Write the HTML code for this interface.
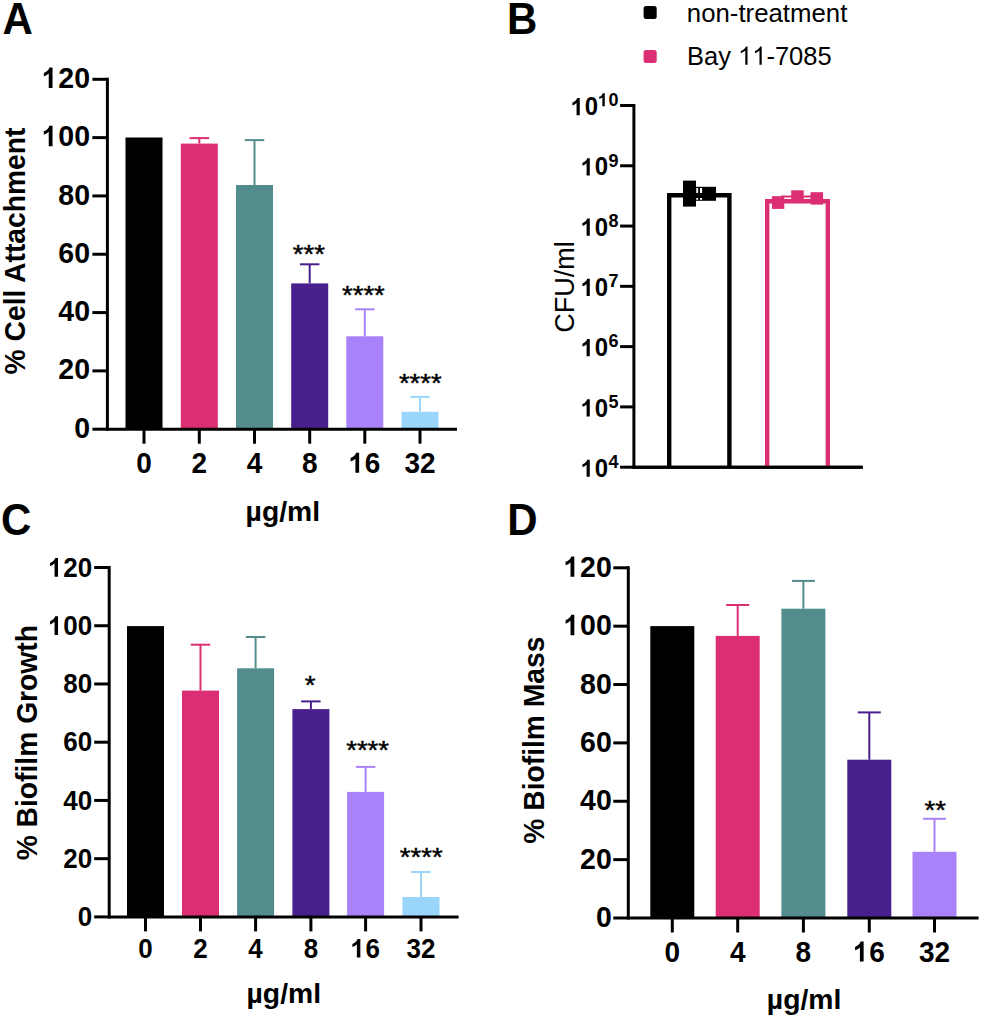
<!DOCTYPE html>
<html><head><meta charset="utf-8"><style>
html,body{margin:0;padding:0;background:#fff;}
svg{display:block;font-family:"Liberation Sans",sans-serif;}
</style></head><body>
<svg width="981" height="1018" viewBox="0 0 981 1018">
<rect width="981" height="1018" fill="#fff"/>
<text transform="translate(2.5,34) scale(1,1.041)" font-size="42" text-anchor="start" font-weight="bold" >A</text>
<rect x="125.5" y="137.5" width="37" height="291.7" fill="#000" />
<rect x="180.8" y="143.6" width="37" height="285.6" fill="#dc2f73" />
<rect x="236" y="185" width="37" height="244.2" fill="#528c8c" />
<rect x="291.2" y="283.4" width="37" height="145.8" fill="#491f8d" />
<rect x="346.3" y="336.3" width="37" height="92.9" fill="#a982f9" />
<rect x="401.5" y="411.8" width="37" height="17.4" fill="#9ad6fb" />
<line x1="199.3" y1="138.1" x2="199.3" y2="143.6" stroke="#dc2f73" stroke-width="2"/>
<line x1="189.55" y1="138.1" x2="209.05" y2="138.1" stroke="#dc2f73" stroke-width="2"/>
<line x1="254.5" y1="140.1" x2="254.5" y2="185" stroke="#528c8c" stroke-width="2"/>
<line x1="244.75" y1="140.1" x2="264.25" y2="140.1" stroke="#528c8c" stroke-width="2"/>
<line x1="309.7" y1="264.3" x2="309.7" y2="283.4" stroke="#491f8d" stroke-width="2"/>
<line x1="299.95" y1="264.3" x2="319.45" y2="264.3" stroke="#491f8d" stroke-width="2"/>
<line x1="364.8" y1="309.3" x2="364.8" y2="336.3" stroke="#a982f9" stroke-width="2"/>
<line x1="355.05" y1="309.3" x2="374.55" y2="309.3" stroke="#a982f9" stroke-width="2"/>
<line x1="420" y1="396.9" x2="420" y2="411.8" stroke="#9ad6fb" stroke-width="2"/>
<line x1="410.25" y1="396.9" x2="429.75" y2="396.9" stroke="#9ad6fb" stroke-width="2"/>
<line x1="107.4" y1="77.8" x2="107.4" y2="430.7" stroke="#000" stroke-width="3"/>
<line x1="92.4" y1="429.2" x2="107.4" y2="429.2" stroke="#000" stroke-width="3"/>
<text transform="translate(90,437.8) scale(1,1.041)" font-size="28.5" text-anchor="end" font-weight="bold" >0</text>
<line x1="92.4" y1="370.88" x2="107.4" y2="370.88" stroke="#000" stroke-width="3"/>
<text transform="translate(90,379.48) scale(1,1.041)" font-size="28.5" text-anchor="end" font-weight="bold" >20</text>
<line x1="92.4" y1="312.57" x2="107.4" y2="312.57" stroke="#000" stroke-width="3"/>
<text transform="translate(90,321.17) scale(1,1.041)" font-size="28.5" text-anchor="end" font-weight="bold" >40</text>
<line x1="92.4" y1="254.25" x2="107.4" y2="254.25" stroke="#000" stroke-width="3"/>
<text transform="translate(90,262.85) scale(1,1.041)" font-size="28.5" text-anchor="end" font-weight="bold" >60</text>
<line x1="92.4" y1="195.93" x2="107.4" y2="195.93" stroke="#000" stroke-width="3"/>
<text transform="translate(90,204.53) scale(1,1.041)" font-size="28.5" text-anchor="end" font-weight="bold" >80</text>
<line x1="92.4" y1="137.62" x2="107.4" y2="137.62" stroke="#000" stroke-width="3"/>
<path d="M725 0H451V1033Q301 893 97 826V1075Q204 1110 330 1208Q456 1306 503 1466H725V0Z" transform="translate(42.45,146.22) scale(0.01392,-0.01392)"/>
<text transform="translate(58.3,146.22) scale(1,1.041)" font-size="28.5" text-anchor="start" font-weight="bold" >00</text>
<line x1="92.4" y1="79.3" x2="107.4" y2="79.3" stroke="#000" stroke-width="3"/>
<path d="M725 0H451V1033Q301 893 97 826V1075Q204 1110 330 1208Q456 1306 503 1466H725V0Z" transform="translate(42.45,87.9) scale(0.01392,-0.01392)"/>
<text transform="translate(58.3,87.9) scale(1,1.041)" font-size="28.5" text-anchor="start" font-weight="bold" >20</text>
<line x1="107.4" y1="429.2" x2="457" y2="429.2" stroke="#000" stroke-width="3"/>
<line x1="144" y1="429.2" x2="144" y2="443.7" stroke="#000" stroke-width="3"/>
<text transform="translate(144,472.8) scale(1,1.041)" font-size="28" text-anchor="middle" font-weight="bold" >0</text>
<line x1="199.3" y1="429.2" x2="199.3" y2="443.7" stroke="#000" stroke-width="3"/>
<text transform="translate(199.3,472.8) scale(1,1.041)" font-size="28" text-anchor="middle" font-weight="bold" >2</text>
<line x1="254.5" y1="429.2" x2="254.5" y2="443.7" stroke="#000" stroke-width="3"/>
<text transform="translate(254.5,472.8) scale(1,1.041)" font-size="28" text-anchor="middle" font-weight="bold" >4</text>
<line x1="309.7" y1="429.2" x2="309.7" y2="443.7" stroke="#000" stroke-width="3"/>
<text transform="translate(309.7,472.8) scale(1,1.041)" font-size="28" text-anchor="middle" font-weight="bold" >8</text>
<line x1="364.8" y1="429.2" x2="364.8" y2="443.7" stroke="#000" stroke-width="3"/>
<path d="M725 0H451V1033Q301 893 97 826V1075Q204 1110 330 1208Q456 1306 503 1466H725V0Z" transform="translate(349.23,472.8) scale(0.01367,-0.01367)"/>
<text transform="translate(364.8,472.8) scale(1,1.041)" font-size="28" text-anchor="start" font-weight="bold" >6</text>
<line x1="420" y1="429.2" x2="420" y2="443.7" stroke="#000" stroke-width="3"/>
<text transform="translate(420,472.8) scale(1,1.041)" font-size="28" text-anchor="middle" font-weight="bold" >32</text>
<text transform="translate(308.9,262.8) scale(1,0.92)" font-size="27.5" text-anchor="middle" font-weight="normal" stroke="#000" stroke-width="0.5">***</text>
<text transform="translate(363.4,304.1) scale(1,0.92)" font-size="27.5" text-anchor="middle" font-weight="normal" stroke="#000" stroke-width="0.5">****</text>
<text transform="translate(420.3,391.9) scale(1,0.92)" font-size="27.5" text-anchor="middle" font-weight="normal" stroke="#000" stroke-width="0.5">****</text>
<text transform="translate(282.85,520.8)" font-size="28.3" text-anchor="middle" font-weight="bold" >µg/ml</text>
<text transform="translate(25.2,251) rotate(-90) scale(1,1.02)" font-size="28.25" text-anchor="middle" font-weight="bold" >% Cell Attachment</text>
<text transform="translate(1,534.5) scale(1,1.041)" font-size="42" text-anchor="start" font-weight="bold" >C</text>
<rect x="127" y="626.1" width="37" height="290.8" fill="#000" />
<rect x="182" y="690.6" width="37" height="226.3" fill="#dc2f73" />
<rect x="237.1" y="668.3" width="37" height="248.6" fill="#528c8c" />
<rect x="292.4" y="709.1" width="37" height="207.8" fill="#491f8d" />
<rect x="347.1" y="791.9" width="37" height="125" fill="#a982f9" />
<rect x="402.5" y="897" width="37" height="19.9" fill="#9ad6fb" />
<line x1="200.5" y1="644.7" x2="200.5" y2="690.6" stroke="#dc2f73" stroke-width="2"/>
<line x1="190.75" y1="644.7" x2="210.25" y2="644.7" stroke="#dc2f73" stroke-width="2"/>
<line x1="255.6" y1="637" x2="255.6" y2="668.3" stroke="#528c8c" stroke-width="2"/>
<line x1="245.85" y1="637" x2="265.35" y2="637" stroke="#528c8c" stroke-width="2"/>
<line x1="310.9" y1="701.4" x2="310.9" y2="709.1" stroke="#491f8d" stroke-width="2"/>
<line x1="301.15" y1="701.4" x2="320.65" y2="701.4" stroke="#491f8d" stroke-width="2"/>
<line x1="365.6" y1="766.9" x2="365.6" y2="791.9" stroke="#a982f9" stroke-width="2"/>
<line x1="355.85" y1="766.9" x2="375.35" y2="766.9" stroke="#a982f9" stroke-width="2"/>
<line x1="421" y1="872" x2="421" y2="897" stroke="#9ad6fb" stroke-width="2"/>
<line x1="411.25" y1="872" x2="430.75" y2="872" stroke="#9ad6fb" stroke-width="2"/>
<line x1="109.2" y1="566" x2="109.2" y2="918.4" stroke="#000" stroke-width="3"/>
<line x1="94.2" y1="916.9" x2="109.2" y2="916.9" stroke="#000" stroke-width="3"/>
<text transform="translate(92.2,926.1) scale(1,1.041)" font-size="26" text-anchor="end" font-weight="bold" >0</text>
<line x1="94.2" y1="858.67" x2="109.2" y2="858.67" stroke="#000" stroke-width="3"/>
<text transform="translate(92.2,867.87) scale(1,1.041)" font-size="26" text-anchor="end" font-weight="bold" >20</text>
<line x1="94.2" y1="800.43" x2="109.2" y2="800.43" stroke="#000" stroke-width="3"/>
<text transform="translate(92.2,809.63) scale(1,1.041)" font-size="26" text-anchor="end" font-weight="bold" >40</text>
<line x1="94.2" y1="742.2" x2="109.2" y2="742.2" stroke="#000" stroke-width="3"/>
<text transform="translate(92.2,751.4) scale(1,1.041)" font-size="26" text-anchor="end" font-weight="bold" >60</text>
<line x1="94.2" y1="683.97" x2="109.2" y2="683.97" stroke="#000" stroke-width="3"/>
<text transform="translate(92.2,693.17) scale(1,1.041)" font-size="26" text-anchor="end" font-weight="bold" >80</text>
<line x1="94.2" y1="625.73" x2="109.2" y2="625.73" stroke="#000" stroke-width="3"/>
<path d="M725 0H451V1033Q301 893 97 826V1075Q204 1110 330 1208Q456 1306 503 1466H725V0Z" transform="translate(48.82,634.93) scale(0.01270,-0.01270)"/>
<text transform="translate(63.28,634.93) scale(1,1.041)" font-size="26" text-anchor="start" font-weight="bold" >00</text>
<line x1="94.2" y1="567.5" x2="109.2" y2="567.5" stroke="#000" stroke-width="3"/>
<path d="M725 0H451V1033Q301 893 97 826V1075Q204 1110 330 1208Q456 1306 503 1466H725V0Z" transform="translate(48.82,576.7) scale(0.01270,-0.01270)"/>
<text transform="translate(63.28,576.7) scale(1,1.041)" font-size="26" text-anchor="start" font-weight="bold" >20</text>
<line x1="109.2" y1="916.9" x2="458.6" y2="916.9" stroke="#000" stroke-width="3"/>
<line x1="145.5" y1="916.9" x2="145.5" y2="931.4" stroke="#000" stroke-width="3"/>
<text transform="translate(145.5,957.6) scale(1,1.041)" font-size="26" text-anchor="middle" font-weight="bold" >0</text>
<line x1="200.5" y1="916.9" x2="200.5" y2="931.4" stroke="#000" stroke-width="3"/>
<text transform="translate(200.5,957.6) scale(1,1.041)" font-size="26" text-anchor="middle" font-weight="bold" >2</text>
<line x1="255.6" y1="916.9" x2="255.6" y2="931.4" stroke="#000" stroke-width="3"/>
<text transform="translate(255.6,957.6) scale(1,1.041)" font-size="26" text-anchor="middle" font-weight="bold" >4</text>
<line x1="310.9" y1="916.9" x2="310.9" y2="931.4" stroke="#000" stroke-width="3"/>
<text transform="translate(310.9,957.6) scale(1,1.041)" font-size="26" text-anchor="middle" font-weight="bold" >8</text>
<line x1="365.6" y1="916.9" x2="365.6" y2="931.4" stroke="#000" stroke-width="3"/>
<path d="M725 0H451V1033Q301 893 97 826V1075Q204 1110 330 1208Q456 1306 503 1466H725V0Z" transform="translate(351.14,957.6) scale(0.01270,-0.01270)"/>
<text transform="translate(365.6,957.6) scale(1,1.041)" font-size="26" text-anchor="start" font-weight="bold" >6</text>
<line x1="421" y1="916.9" x2="421" y2="931.4" stroke="#000" stroke-width="3"/>
<text transform="translate(421,957.6) scale(1,1.041)" font-size="26" text-anchor="middle" font-weight="bold" >32</text>
<text transform="translate(310.1,693.6) scale(1,0.92)" font-size="27.5" text-anchor="middle" font-weight="normal" stroke="#000" stroke-width="0.5">*</text>
<text transform="translate(367.6,759.2) scale(1,0.92)" font-size="27.5" text-anchor="middle" font-weight="normal" stroke="#000" stroke-width="0.5">****</text>
<text transform="translate(421.2,865.5) scale(1,0.92)" font-size="27.5" text-anchor="middle" font-weight="normal" stroke="#000" stroke-width="0.5">****</text>
<text transform="translate(283.8,1003)" font-size="28.3" text-anchor="middle" font-weight="bold" >µg/ml</text>
<text transform="translate(36.6,742.7) rotate(-90) scale(1,1.02)" font-size="28.25" text-anchor="middle" font-weight="bold" >% Biofilm Growth</text>
<text transform="translate(507.2,534.6) scale(1,1.041)" font-size="42" text-anchor="start" font-weight="bold" >D</text>
<rect x="650.3" y="626.1" width="44" height="291.9" fill="#000" />
<rect x="715.7" y="635.9" width="44" height="282.1" fill="#dc2f73" />
<rect x="781.4" y="608.7" width="44" height="309.3" fill="#528c8c" />
<rect x="847.3" y="759.7" width="44" height="158.3" fill="#491f8d" />
<rect x="912.5" y="851.8" width="44" height="66.2" fill="#a982f9" />
<line x1="737.7" y1="605" x2="737.7" y2="635.9" stroke="#dc2f73" stroke-width="2"/>
<line x1="726.2" y1="605" x2="749.2" y2="605" stroke="#dc2f73" stroke-width="2"/>
<line x1="803.4" y1="580.9" x2="803.4" y2="608.7" stroke="#528c8c" stroke-width="2"/>
<line x1="791.9" y1="580.9" x2="814.9" y2="580.9" stroke="#528c8c" stroke-width="2"/>
<line x1="869.3" y1="712.4" x2="869.3" y2="759.7" stroke="#491f8d" stroke-width="2"/>
<line x1="857.8" y1="712.4" x2="880.8" y2="712.4" stroke="#491f8d" stroke-width="2"/>
<line x1="934.5" y1="818.8" x2="934.5" y2="851.8" stroke="#a982f9" stroke-width="2"/>
<line x1="923" y1="818.8" x2="946" y2="818.8" stroke="#a982f9" stroke-width="2"/>
<line x1="628.3" y1="566.3" x2="628.3" y2="919.5" stroke="#000" stroke-width="3"/>
<line x1="613.3" y1="918" x2="628.3" y2="918" stroke="#000" stroke-width="3"/>
<text transform="translate(611.8,927) scale(1,1.041)" font-size="28.5" text-anchor="end" font-weight="bold" >0</text>
<line x1="613.3" y1="859.63" x2="628.3" y2="859.63" stroke="#000" stroke-width="3"/>
<text transform="translate(611.8,868.63) scale(1,1.041)" font-size="28.5" text-anchor="end" font-weight="bold" >20</text>
<line x1="613.3" y1="801.27" x2="628.3" y2="801.27" stroke="#000" stroke-width="3"/>
<text transform="translate(611.8,810.27) scale(1,1.041)" font-size="28.5" text-anchor="end" font-weight="bold" >40</text>
<line x1="613.3" y1="742.9" x2="628.3" y2="742.9" stroke="#000" stroke-width="3"/>
<text transform="translate(611.8,751.9) scale(1,1.041)" font-size="28.5" text-anchor="end" font-weight="bold" >60</text>
<line x1="613.3" y1="684.53" x2="628.3" y2="684.53" stroke="#000" stroke-width="3"/>
<text transform="translate(611.8,693.53) scale(1,1.041)" font-size="28.5" text-anchor="end" font-weight="bold" >80</text>
<line x1="613.3" y1="626.17" x2="628.3" y2="626.17" stroke="#000" stroke-width="3"/>
<path d="M725 0H451V1033Q301 893 97 826V1075Q204 1110 330 1208Q456 1306 503 1466H725V0Z" transform="translate(564.25,635.17) scale(0.01392,-0.01392)"/>
<text transform="translate(580.1,635.17) scale(1,1.041)" font-size="28.5" text-anchor="start" font-weight="bold" >00</text>
<line x1="613.3" y1="567.8" x2="628.3" y2="567.8" stroke="#000" stroke-width="3"/>
<path d="M725 0H451V1033Q301 893 97 826V1075Q204 1110 330 1208Q456 1306 503 1466H725V0Z" transform="translate(564.25,576.8) scale(0.01392,-0.01392)"/>
<text transform="translate(580.1,576.8) scale(1,1.041)" font-size="28.5" text-anchor="start" font-weight="bold" >20</text>
<line x1="628.3" y1="918" x2="978.6" y2="918" stroke="#000" stroke-width="3"/>
<line x1="672.3" y1="918" x2="672.3" y2="932.5" stroke="#000" stroke-width="3"/>
<text transform="translate(672.3,961.6) scale(1,1.041)" font-size="28" text-anchor="middle" font-weight="bold" >0</text>
<line x1="737.7" y1="918" x2="737.7" y2="932.5" stroke="#000" stroke-width="3"/>
<text transform="translate(737.7,961.6) scale(1,1.041)" font-size="28" text-anchor="middle" font-weight="bold" >4</text>
<line x1="803.4" y1="918" x2="803.4" y2="932.5" stroke="#000" stroke-width="3"/>
<text transform="translate(803.4,961.6) scale(1,1.041)" font-size="28" text-anchor="middle" font-weight="bold" >8</text>
<line x1="869.3" y1="918" x2="869.3" y2="932.5" stroke="#000" stroke-width="3"/>
<path d="M725 0H451V1033Q301 893 97 826V1075Q204 1110 330 1208Q456 1306 503 1466H725V0Z" transform="translate(853.73,961.6) scale(0.01367,-0.01367)"/>
<text transform="translate(869.3,961.6) scale(1,1.041)" font-size="28" text-anchor="start" font-weight="bold" >6</text>
<line x1="934.5" y1="918" x2="934.5" y2="932.5" stroke="#000" stroke-width="3"/>
<text transform="translate(934.5,961.6) scale(1,1.041)" font-size="28" text-anchor="middle" font-weight="bold" >32</text>
<text transform="translate(935.3,818.7) scale(1,0.92)" font-size="27.5" text-anchor="middle" font-weight="normal" stroke="#000" stroke-width="0.5">**</text>
<text transform="translate(804.1,1009.1)" font-size="28.3" text-anchor="middle" font-weight="bold" >µg/ml</text>
<text transform="translate(543.6,740.1) rotate(-90) scale(1,1.02)" font-size="28.25" text-anchor="middle" font-weight="bold" >% Biofilm Mass</text>
<text transform="translate(507,33.5) scale(1,1.041)" font-size="42" text-anchor="start" font-weight="bold" >B</text>
<rect x="643.6" y="6" width="13.1" height="12.9" fill="#000" rx="2.5"/>
<rect x="643.6" y="50" width="13.1" height="12.9" fill="#dc2f73" rx="2.5"/>
<text transform="translate(686.8,21.6) scale(1,0.99)" font-size="25.8" text-anchor="start" font-weight="normal" >non-treatment</text>
<text transform="translate(687,64.8) scale(1,1.041)" font-size="25.5" text-anchor="start" font-weight="normal" >Bay </text>
<path d="M763 0H583V1147Q518 1085 412.5 1023Q307 961 223 930V1104Q374 1175 487 1276Q600 1377 647 1472H763V0Z" transform="translate(738.02,64.8) scale(0.01245,-0.01245)"/>
<path d="M763 0H583V1147Q518 1085 412.5 1023Q307 961 223 930V1104Q374 1175 487 1276Q600 1377 647 1472H763V0Z" transform="translate(752.21,64.8) scale(0.01245,-0.01245)"/>
<text transform="translate(766.39,64.8) scale(1,1.041)" font-size="25.5" text-anchor="start" font-weight="normal" >-7085</text>
<line x1="633.9" y1="104" x2="633.9" y2="468.7" stroke="#000" stroke-width="3"/>
<line x1="633.9" y1="467.2" x2="862.7" y2="467.2" stroke="#000" stroke-width="3"/>
<line x1="620.1" y1="105.5" x2="633.9" y2="105.5" stroke="#000" stroke-width="3"/>
<path d="M725 0H451V1033Q301 893 97 826V1075Q204 1110 330 1208Q456 1306 503 1466H725V0Z" transform="translate(598.38,106.25) scale(0.00879,-0.00879)"/>
<text transform="translate(608.39,106.25) scale(1,1.041)" font-size="18" text-anchor="start" font-weight="bold" >0</text>
<path d="M725 0H451V1033Q301 893 97 826V1075Q204 1110 330 1208Q456 1306 503 1466H725V0Z" transform="translate(571.28,115.15) scale(0.01172,-0.01172)"/>
<text transform="translate(584.63,115.15) scale(1,1.041)" font-size="24" text-anchor="start" font-weight="bold" >0</text>
<line x1="620.1" y1="165.78" x2="633.9" y2="165.78" stroke="#000" stroke-width="3"/>
<text transform="translate(608.39,166.53) scale(1,1.041)" font-size="18" text-anchor="start" font-weight="bold" >9</text>
<path d="M725 0H451V1033Q301 893 97 826V1075Q204 1110 330 1208Q456 1306 503 1466H725V0Z" transform="translate(581.29,175.43) scale(0.01172,-0.01172)"/>
<text transform="translate(594.64,175.43) scale(1,1.041)" font-size="24" text-anchor="start" font-weight="bold" >0</text>
<line x1="620.1" y1="226.06" x2="633.9" y2="226.06" stroke="#000" stroke-width="3"/>
<text transform="translate(608.39,226.81) scale(1,1.041)" font-size="18" text-anchor="start" font-weight="bold" >8</text>
<path d="M725 0H451V1033Q301 893 97 826V1075Q204 1110 330 1208Q456 1306 503 1466H725V0Z" transform="translate(581.29,235.71) scale(0.01172,-0.01172)"/>
<text transform="translate(594.64,235.71) scale(1,1.041)" font-size="24" text-anchor="start" font-weight="bold" >0</text>
<line x1="620.1" y1="286.34" x2="633.9" y2="286.34" stroke="#000" stroke-width="3"/>
<text transform="translate(608.39,287.09) scale(1,1.041)" font-size="18" text-anchor="start" font-weight="bold" >7</text>
<path d="M725 0H451V1033Q301 893 97 826V1075Q204 1110 330 1208Q456 1306 503 1466H725V0Z" transform="translate(581.29,295.99) scale(0.01172,-0.01172)"/>
<text transform="translate(594.64,295.99) scale(1,1.041)" font-size="24" text-anchor="start" font-weight="bold" >0</text>
<line x1="620.1" y1="346.62" x2="633.9" y2="346.62" stroke="#000" stroke-width="3"/>
<text transform="translate(608.39,347.37) scale(1,1.041)" font-size="18" text-anchor="start" font-weight="bold" >6</text>
<path d="M725 0H451V1033Q301 893 97 826V1075Q204 1110 330 1208Q456 1306 503 1466H725V0Z" transform="translate(581.29,356.27) scale(0.01172,-0.01172)"/>
<text transform="translate(594.64,356.27) scale(1,1.041)" font-size="24" text-anchor="start" font-weight="bold" >0</text>
<line x1="620.1" y1="406.9" x2="633.9" y2="406.9" stroke="#000" stroke-width="3"/>
<text transform="translate(608.39,407.65) scale(1,1.041)" font-size="18" text-anchor="start" font-weight="bold" >5</text>
<path d="M725 0H451V1033Q301 893 97 826V1075Q204 1110 330 1208Q456 1306 503 1466H725V0Z" transform="translate(581.29,416.55) scale(0.01172,-0.01172)"/>
<text transform="translate(594.64,416.55) scale(1,1.041)" font-size="24" text-anchor="start" font-weight="bold" >0</text>
<line x1="620.1" y1="467.18" x2="633.9" y2="467.18" stroke="#000" stroke-width="3"/>
<text transform="translate(608.39,467.93) scale(1,1.041)" font-size="18" text-anchor="start" font-weight="bold" >4</text>
<path d="M725 0H451V1033Q301 893 97 826V1075Q204 1110 330 1208Q456 1306 503 1466H725V0Z" transform="translate(581.29,476.83) scale(0.01172,-0.01172)"/>
<text transform="translate(594.64,476.83) scale(1,1.041)" font-size="24" text-anchor="start" font-weight="bold" >0</text>
<path d="M669.2 467V195.2H729.4V467" fill="none" stroke="#000" stroke-width="4.4"/>
<path d="M767.2 467V201.2H827.8V467" fill="none" stroke="#dc2f73" stroke-width="4.4"/>
<line x1="632.4" y1="467.2" x2="862.7" y2="467.2" stroke="#000" stroke-width="3"/>
<rect x="683" y="180.6" width="13" height="26" fill="#000" />
<rect x="696" y="186.8" width="20" height="14" fill="#000" />
<rect x="696.3" y="188" width="1.8" height="5" fill="#fff" />
<rect x="700" y="188" width="2.1" height="5" fill="#fff" />
<rect x="696.3" y="198" width="1.8" height="1.8" fill="#fff" />
<rect x="700" y="198" width="2.1" height="1.8" fill="#fff" />
<rect x="781" y="195.5" width="30" height="2" fill="#dc2f73" />
<rect x="771.9" y="196.2" width="12.4" height="12.7" fill="#dc2f73" />
<rect x="791.2" y="190.3" width="12.5" height="12" fill="#dc2f73" />
<rect x="810.5" y="192.2" width="12.6" height="12.4" fill="#dc2f73" />
<text transform="translate(574,287) rotate(-90) scale(1,1.01)" font-size="27" text-anchor="middle" font-weight="normal" >CFU/ml</text>
</svg>
</body></html>
